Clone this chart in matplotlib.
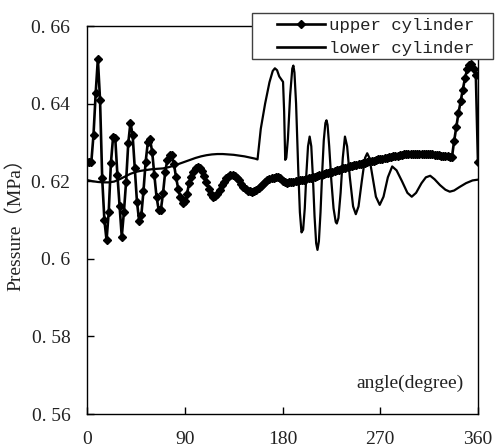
import numpy as np
import matplotlib
matplotlib.use("Agg")
import matplotlib.pyplot as plt
from matplotlib.patches import Rectangle
from matplotlib.lines import Line2D

# upper cylinder: one reading every 2 degrees
upper_angle = list(range(0, 361, 2))
upper_pressure = [
    0.6250, 0.6250, 0.6250, 0.6320, 0.6427, 0.6515, 0.6410, 0.6207, 0.6100, 0.6048,  # 0-18
    0.6121, 0.6246, 0.6313, 0.6311, 0.6216, 0.6136, 0.6057, 0.6121, 0.6199, 0.6298,  # 20-38
    0.6351, 0.6319, 0.6233, 0.6147, 0.6098, 0.6112, 0.6175, 0.6250, 0.6300, 0.6308,  # 40-58
    0.6276, 0.6216, 0.6160, 0.6126, 0.6126, 0.6169, 0.6224, 0.6255, 0.6268, 0.6268,  # 60-78
    0.6245, 0.6210, 0.6180, 0.6158, 0.6145, 0.6150, 0.6166, 0.6195, 0.6212, 0.6225,  # 80-98
    0.6234, 0.6237, 0.6234, 0.6226, 0.6213, 0.6197, 0.6181, 0.6167, 0.6160, 0.6162,  # 100-118
    0.6168, 0.6178, 0.6189, 0.6199, 0.6207, 0.6212, 0.6215, 0.6216, 0.6214, 0.6209,  # 120-138
    0.6202, 0.6194, 0.6186, 0.6180, 0.6176, 0.6174, 0.6173, 0.6174, 0.6177, 0.6182,  # 140-158
    0.6188, 0.6194, 0.6199, 0.6203, 0.6206, 0.6208, 0.6209, 0.6210, 0.6210, 0.6207,  # 160-178
    0.6201, 0.6197, 0.6196, 0.6197, 0.6198, 0.6199, 0.6200, 0.6201, 0.6202, 0.6203,  # 180-198
    0.6204, 0.6206, 0.6207, 0.6209, 0.6210, 0.6212, 0.6213, 0.6215, 0.6216, 0.6218,  # 200-218
    0.6220, 0.6221, 0.6223, 0.6225, 0.6226, 0.6228, 0.6230, 0.6231, 0.6233, 0.6235,  # 220-238
    0.6236, 0.6238, 0.6239, 0.6241, 0.6242, 0.6244, 0.6245, 0.6247, 0.6248, 0.6249,  # 240-258
    0.6251, 0.6252, 0.6253, 0.6255, 0.6256, 0.6257, 0.6258, 0.6260, 0.6261, 0.6262,  # 260-278
    0.6263, 0.6264, 0.6265, 0.6266, 0.6267, 0.6268, 0.6269, 0.6269, 0.6270, 0.6270,  # 280-298
    0.6271, 0.6271, 0.6271, 0.6271, 0.6271, 0.6271, 0.6270, 0.6270, 0.6270, 0.6269,  # 300-318
    0.6268, 0.6268, 0.6267, 0.6266, 0.6266, 0.6265, 0.6264, 0.6263, 0.6262, 0.6303,  # 320-338
    0.6339, 0.6375, 0.6406, 0.6436, 0.6465, 0.6488, 0.6500, 0.6503, 0.6490, 0.6475,  # 340-358
    0.6250,                                                                          # 360
]

# lower cylinder: read at uneven angles along the curve
lower_angle = [
    0, 5, 10, 15, 20, 25, 30, 35, 40, 45, 50, 55, 60, 65, 70, 75, 80, 85, 90,
    95, 100, 105, 110, 115, 120, 125, 130, 135, 140, 145, 150, 155, 157,
    160, 164, 168, 171, 173, 175, 177, 179, 180.5, 181.5, 182.5, 183.5,
    185, 187, 189, 190, 191, 192.5, 194.5, 196, 197.5, 199, 200.5, 202,
    203.5, 205, 206.5, 208, 209.5, 211, 212.2, 213.5, 215, 216.5, 218,
    219.5, 220.5, 221.5, 223, 225, 227, 229, 230, 231.5, 233.5, 235.5,
    237.5, 239.5, 242, 245, 247.5, 250, 253, 256, 258, 260, 263, 266,
    269.5, 273, 277, 281, 285, 290, 295, 299, 303, 308, 312, 316, 320,
    325, 330, 334, 338, 343, 349, 355, 360,
]
lower_pressure = [
    0.6203, 0.6200, 0.6198, 0.6197, 0.6197, 0.6199, 0.6205, 0.6212, 0.6219, 0.6224,
    0.6227, 0.6229, 0.6231, 0.6232, 0.6233, 0.6236, 0.6240, 0.6245, 0.6250,
    0.6255, 0.6260, 0.6264, 0.6267, 0.6269, 0.6270, 0.6270, 0.6269, 0.6268, 0.6266,
    0.6264, 0.6261, 0.6258, 0.6256,
    0.6335, 0.6400, 0.6455, 0.6484, 0.6491, 0.6486, 0.6470, 0.6462, 0.6456, 0.6380,
    0.6255, 0.6260,
    0.6310, 0.6420, 0.6490, 0.6498, 0.6480, 0.6400, 0.6230, 0.6120, 0.6068, 0.6075,
    0.6130, 0.6220,
    0.6290, 0.6315, 0.6290, 0.6210, 0.6110, 0.6040, 0.6023, 0.6045, 0.6120, 0.6220,
    0.6305,
    0.6350, 0.6357, 0.6345, 0.6290, 0.6200, 0.6130, 0.6095, 0.6091, 0.6105, 0.6170,
    0.6260,
    0.6315, 0.6290, 0.6210, 0.6135, 0.6115, 0.6135, 0.6200, 0.6260, 0.6272, 0.6260,
    0.6210, 0.6160,
    0.6139, 0.6160, 0.6210, 0.6238, 0.6228, 0.6200, 0.6170, 0.6160, 0.6170, 0.6195,
    0.6210, 0.6214, 0.6205,
    0.6190, 0.6178, 0.6173, 0.6176, 0.6185, 0.6195, 0.6202, 0.6204,
]

xticks = [0, 90, 180, 270, 360]
yticks = [0.56, 0.58, 0.60, 0.62, 0.64, 0.66]
ytick_labels = ["0. 56", "0. 58", "0. 6", "0. 62", "0. 64", "0. 66"]
series_names = ["upper cylinder", "lower cylinder"]

W, H = 495, 448
serif = ["Liberation Serif", "Noto Sans CJK SC", "DejaVu Serif"]
mono = ["Liberation Mono", "DejaVu Sans Mono"]

fig = plt.figure(figsize=(W / 100, H / 100), dpi=100)
fig.set_facecolor("white")
ax = fig.add_axes([87 / W, 1 - 414 / H, (478 - 87) / W, (414 - 26) / H])

ax.plot(lower_angle, lower_pressure, color="black", lw=1.6)
ax.plot(upper_angle, upper_pressure, color="black", lw=1.9,
        marker="D", ms=3.8, mfc="black", mec="black")

ax.set_xlim(0, 360)
ax.set_ylim(0.56, 0.66)
ax.set_xticks(xticks)
ax.set_xticklabels([str(t) for t in xticks])
ax.set_yticks(yticks)
ax.set_yticklabels(ytick_labels)
ax.tick_params(axis="both", direction="in", length=5, width=1, color="black",
               labelsize=14, labelcolor="#222222", pad=12)
for lab in ax.get_xticklabels() + ax.get_yticklabels():
    lab.set_family(serif)
for sp in ax.spines.values():
    sp.set_linewidth(1.0)
    sp.set_color("black")

ax.text(0.826, 0.08, "angle(degree)", transform=ax.transAxes, ha="center",
        va="center", fontsize=14, family=serif, color="#222222")
fig.text(15 / W, 1 - 220 / H, "Pressure（MPa）", rotation=90, ha="center",
         va="center", fontsize=14, family=serif, color="#222222")

# legend frame sits over the top spine, partly outside the axes
box = Rectangle((252.3 / W, 1 - 59 / H), 241 / W, 46.3 / H, transform=fig.transFigure,
                facecolor="white", edgecolor="#404040", lw=1.0, zorder=10)
fig.patches.append(box)
handles = [
    Line2D([], [], color="black", lw=1.9, marker="D", ms=3.8),
    Line2D([], [], color="black", lw=1.9),
]
leg = fig.legend(handles, series_names, loc="upper left",
                 bbox_to_anchor=(276.7 / W, 1 - 18.0 / H), borderaxespad=0,
                 borderpad=0, frameon=False, handlelength=2.8, handletextpad=0.2,
                 labelspacing=0.42, prop={"family": mono, "size": 12.5})
leg.set_zorder(11)
for t in leg.get_texts():
    t.set_color("#222222")

fig.savefig("out.png", dpi=100)
